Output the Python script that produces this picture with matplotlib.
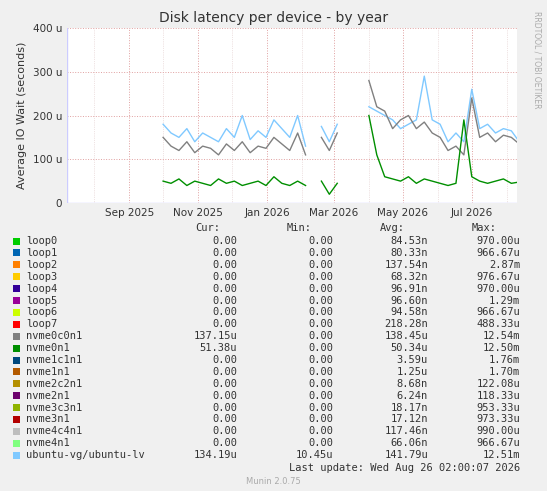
import matplotlib
matplotlib.use("Agg")
import matplotlib.pyplot as plt
import matplotlib.dates as mdates
import numpy as np
import datetime as dt

nan = float("nan")
start = dt.datetime(2025, 10, 1)
dates = [start + dt.timedelta(days=7 * i) for i in range(46)]
gray = [150, 130, 120, 140, 115, 130, 125, 110, 135, 120, 140, 115, 130, 125, 150, 135, 120, 160, 110,
        nan, 150, 120, 160, nan, nan, nan, 280, 220, 210, 170, 190, 200, 170, 185, 160, 150, 120, 130,
        110, 240, 150, 160, 140, 155, 150, 135]
blue = [180, 160, 150, 170, 140, 160, 150, 140, 170, 150, 200, 145, 165, 150, 190, 170, 150, 200, 130,
        nan, 175, 140, 180, nan, nan, nan, 220, 210, 200, 190, 170, 180, 190, 290, 190, 180, 140, 160,
        140, 260, 170, 180, 160, 170, 165, 140]
green = [50, 45, 55, 40, 50, 45, 40, 55, 45, 50, 40, 45, 50, 40, 60, 45, 40, 50, 40,
         nan, 50, 20, 45, nan, nan, nan, 200, 110, 60, 55, 50, 60, 45, 55, 50, 45, 40, 45,
         190, 60, 50, 45, 50, 55, 45, 48]

names = ["loop0", "loop1", "loop2", "loop3", "loop4", "loop5", "loop6", "loop7", "nvme0c0n1", "nvme0n1",
         "nvme1c1n1", "nvme1n1", "nvme2c2n1", "nvme2n1", "nvme3c3n1", "nvme3n1", "nvme4c4n1", "nvme4n1",
         "ubuntu-vg/ubuntu-lv"]
colors = ["#00CC00", "#0066B3", "#FF8000", "#FFCC00", "#330099", "#990099", "#CCFF00", "#FF0000", "#808080",
          "#008F00", "#00487D", "#B35A00", "#B38F00", "#6B006B", "#8FB300", "#B30000", "#BEBEBE", "#80FF80",
          "#80C9FF"]
cur = ["0.00"] * 8 + ["137.15u", "51.38u"] + ["0.00"] * 8 + ["134.19u"]
mins = ["0.00"] * 18 + ["10.45u"]
avg = ["84.53n", "80.33n", "137.54n", "68.32n", "96.91n", "96.60n", "94.58n", "218.28n", "138.45u", "50.34u",
       "3.59u", "1.25u", "8.68n", "6.24n", "18.17n", "17.12n", "117.46n", "66.06n", "141.79u"]
mx = ["970.00u", "966.67u", "2.87m", "976.67u", "970.00u", "1.29m", "966.67u", "488.33u", "12.54m", "12.50m",
      "1.76m", "1.70m", "122.08u", "118.33u", "953.33u", "973.33u", "990.00u", "966.67u", "12.51m"]

W, H = 547, 491
fig = plt.figure(figsize=(W / 100, H / 100), dpi=100, facecolor="#F0F0F0")
ax = fig.add_axes([67 / W, 1 - 203 / H, 450 / W, 175 / H], facecolor="white")
ax.plot(dates, blue, color=colors[18], lw=1)
ax.plot(dates, gray, color=colors[8], lw=1)
ax.plot(dates, green, color=colors[9], lw=1)
ax.set_xlim(dt.datetime(2025, 7, 8), dt.datetime(2026, 8, 10))
ax.set_ylim(0, 400)
ax.set_yticks([0, 100, 200, 300, 400])
ax.set_yticklabels(["0", "100 u", "200 u", "300 u", "400 u"])
ax.xaxis.set_major_locator(mdates.MonthLocator(bymonth=[1, 3, 5, 7, 9, 11]))
ax.xaxis.set_major_formatter(mdates.DateFormatter("%b %Y"))
ax.xaxis.set_minor_locator(mdates.MonthLocator())
ax.grid(True, which="major", color="#E0A0A0", ls=":", lw=0.7)
ax.grid(True, which="minor", axis="x", color="#E0C8C8", ls=":", lw=0.5)
ax.tick_params(labelsize=7.5, length=0, colors="#333333")
ax.tick_params(which="minor", length=0)
for s in ax.spines.values():
    s.set_visible(False)
ax.axhline(0, color="#CCCCFF", lw=1)
ax.axvline(ax.get_xlim()[0], color="#CCCCFF", lw=1)
ax.set_ylabel("Average IO Wait (seconds)", fontsize=8, color="#333333")
fig.text(0.5, 1 - 18 / H, "Disk latency per device - by year", ha="center", va="center", fontsize=10, color="#333333")
fig.text(537 / W, 1 - 60 / H, "RRDTOOL / TOBI OETIKER", rotation=270, ha="center", va="center", fontsize=5.5, color="#AAAAAA")

fs = 7.5
def fy(y):
    return 1 - y / H
for x, t in [(220, "Cur:"), (312, "Min:"), (405, "Avg:"), (497, "Max:")]:
    fig.text(x / W, fy(228), t, ha="right", va="center", fontsize=fs, family="DejaVu Sans Mono", color="#333333")
for i, n in enumerate(names):
    y = 241 + i * 11.9
    fig.patches.append(plt.Rectangle((13 / W, fy(y + 3.5)), 7 / W, 7 / H, transform=fig.transFigure,
                                     facecolor=colors[i], edgecolor="none"))
    fig.text(26 / W, fy(y), n, ha="left", va="center", fontsize=fs, family="DejaVu Sans Mono", color="#333333")
    for x, v in [(237, cur[i]), (333, mins[i]), (428, avg[i]), (520, mx[i])]:
        fig.text(x / W, fy(y), v, ha="right", va="center", fontsize=fs, family="DejaVu Sans Mono", color="#333333")
fig.text(520 / W, fy(468), "Last update: Wed Aug 26 02:00:07 2026", ha="right", va="center", fontsize=fs,
         family="DejaVu Sans Mono", color="#333333")
fig.text(0.5, fy(481), "Munin 2.0.75", ha="center", va="center", fontsize=6, color="#AAAAAA")
fig.savefig("out.png", dpi=100, facecolor=fig.get_facecolor())
